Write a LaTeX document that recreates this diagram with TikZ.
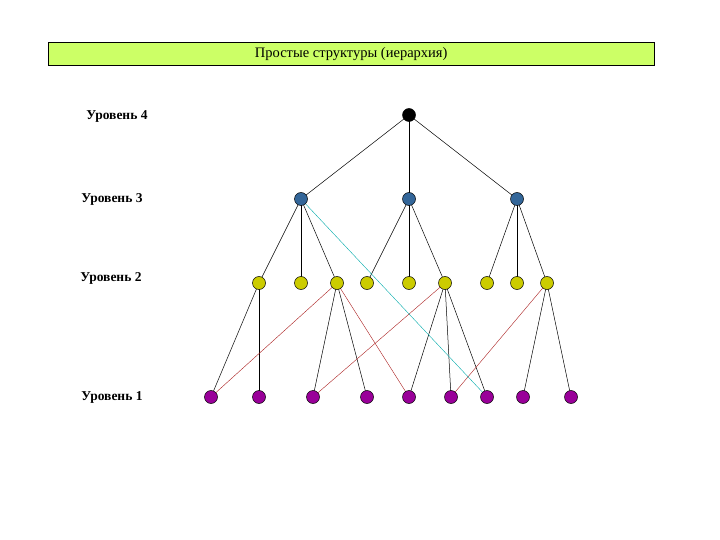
\documentclass[tikz,border=0pt]{standalone}
\usepackage{fontspec}
\setmainfont{Liberation Serif}
\definecolor{cblue}{RGB}{51,102,153}
\definecolor{cyel}{RGB}{204,204,0}
\definecolor{cpur}{RGB}{153,0,153}
\definecolor{cred}{RGB}{170,30,30}
\definecolor{ccyan}{RGB}{0,170,170}
\definecolor{cgreen}{RGB}{204,255,102}
\begin{document}
\begin{tikzpicture}[x=1pt,y=-1pt,
  nd/.style={circle,draw=black,line width=0.5pt,minimum size=13pt,inner sep=0pt},
  c4/.style={nd,fill=black},
  c3/.style={nd,fill=cblue},
  c2/.style={nd,fill=cyel},
  c1/.style={nd,fill=cpur},
  e/.style={line width=0.5pt,draw=black},
  r/.style={line width=0.4pt,draw=cred},
  cy/.style={line width=0.4pt,draw=ccyan},
  lab/.style={font=\bfseries\fontsize{13.5}{15}\selectfont}]
\useasboundingbox (0,0) rectangle (720,540);
\node[draw=black,fill=cgreen,minimum width=606pt,minimum height=23pt,inner sep=0pt,anchor=north west,font=\fontsize{14.5}{16}\selectfont] (title) at (48,42) {Простые структуры (иерархия)};
\node[lab] (l4) at (117,116) {Уровень 4};
\node[lab] (l3) at (112,199) {Уровень 3};
\node[lab] (l2) at (111,278) {Уровень 2};
\node[lab] (l1) at (112,397) {Уровень 1};
\coordinate (A) at (409,115);
\foreach \x/\n in {301/a,409/b,517/c} \coordinate (B\n) at (\x,199);
\foreach \x [count=\i] in {259,301,337,367,409,445,487,517,547} \coordinate (C\i) at (\x,283);
\foreach \x [count=\i] in {211,259,313,367,409,451,487,523,571} \coordinate (D\i) at (\x,397);
\foreach \n in {a,b,c} \draw[e] (A) -- (B\n);
\foreach \i in {1,2,3} \draw[e] (Ba) -- (C\i);
\foreach \i in {4,5,6} \draw[e] (Bb) -- (C\i);
\foreach \i in {7,8,9} \draw[e] (Bc) -- (C\i);
\draw[e] (C1) -- (D1); \draw[e] (C1) -- (D2);
\draw[e] (C3) -- (D3); \draw[e] (C3) -- (D4);
\draw[e] (C6) -- (D5); \draw[e] (C6) -- (D6); \draw[e] (C6) -- (D7);
\draw[e] (C9) -- (D8); \draw[e] (C9) -- (D9);
\draw[r] (C3) -- (D1); \draw[r] (C3) -- (D5); \draw[r] (C6) -- (D3); \draw[r] (C9) -- (D6);
\draw[cy] (Ba) -- (D7);
\node[c4] (n4) at (A) {};
\foreach \n in {a,b,c} \node[c3] (n3\n) at (B\n) {};
\foreach \i in {1,...,9} \node[c2] (n2\i) at (C\i) {};
\foreach \i in {1,...,9} \node[c1] (n1\i) at (D\i) {};
\end{tikzpicture}
\end{document}
